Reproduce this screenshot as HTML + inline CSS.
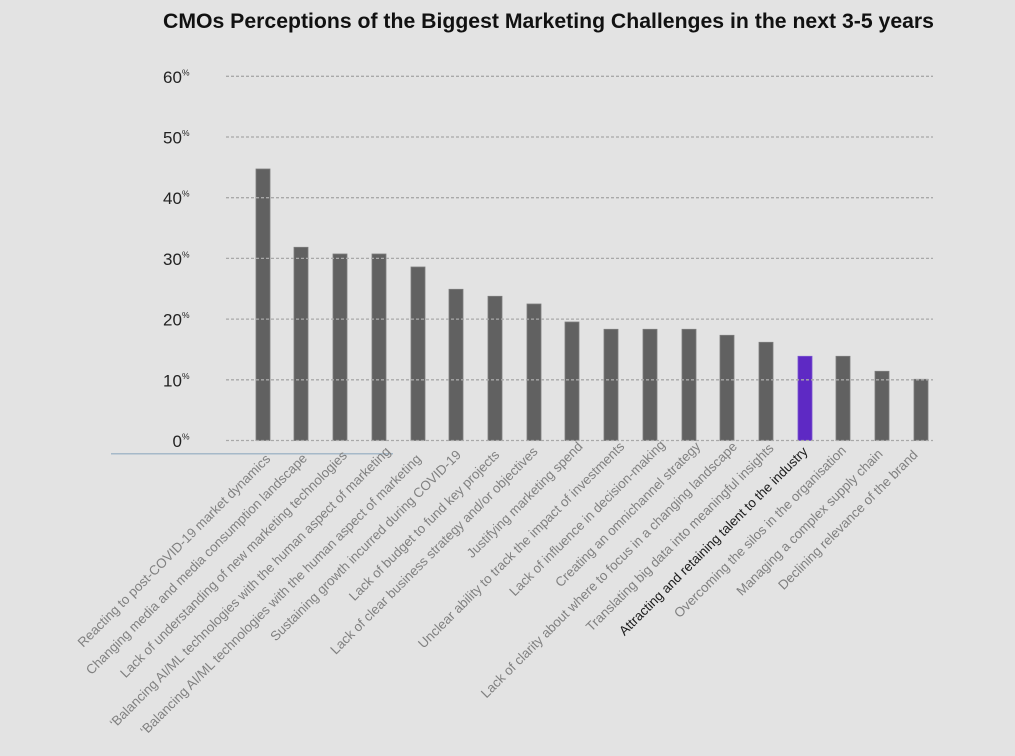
<!DOCTYPE html>
<html>
<head>
<meta charset="utf-8">
<style>
  html, body { margin: 0; padding: 0; background: #e3e3e3; }
  svg { display: block; }
  .yl { font-family: "Liberation Sans", Arial, sans-serif; font-size: 17px; fill: #222; }
  .xl { font-family: "Liberation Sans", Arial, sans-serif; font-size: 13.3px; fill: #808080; }
</style>
</head>
<body>
<svg width="1015" height="756" viewBox="0 0 1015 756" xmlns="http://www.w3.org/2000/svg">
  <rect x="0" y="0" width="1015" height="756" fill="#e3e3e3"/>

  <!-- Title -->
  <text x="163" y="28" font-family="'Liberation Sans Narrow', 'Liberation Sans', Arial, sans-serif" font-weight="bold" font-size="21" fill="#111" textLength="771" lengthAdjust="spacingAndGlyphs">CMOs Perceptions of the Biggest Marketing Challenges in the next 3-5 years</text>

  <!-- Bars -->
  <g fill="#616161" stroke="#7c7c7c" stroke-width="0.8">
    <rect x="256" y="169" width="14" height="271.5"/>
    <rect x="294" y="247.3" width="14" height="193.2"/>
    <rect x="333" y="254" width="14" height="186.5"/>
    <rect x="372" y="254" width="14" height="186.5"/>
    <rect x="411" y="267" width="14" height="173.5"/>
    <rect x="449" y="289.3" width="14" height="151.2"/>
    <rect x="488" y="296.3" width="14" height="144.2"/>
    <rect x="527" y="304" width="14" height="136.5"/>
    <rect x="565" y="322" width="14" height="118.5"/>
    <rect x="604" y="329.3" width="14" height="111.2"/>
    <rect x="643" y="329.3" width="14" height="111.2"/>
    <rect x="682" y="329.3" width="14" height="111.2"/>
    <rect x="720" y="335.3" width="14" height="105.2"/>
    <rect x="759" y="342.3" width="14" height="98.2"/>
    <rect x="836" y="356.3" width="14" height="84.2"/>
    <rect x="875" y="371.3" width="14" height="69.2"/>
    <rect x="914" y="379.3" width="14" height="61.2"/>
  </g>
  <rect x="798" y="356.3" width="14" height="84.2" fill="#5e29c4" stroke="#7a55d0" stroke-width="0.8"/>

  <!-- Gridlines -->
  <g stroke="#a9a9a9" stroke-width="1.3" stroke-dasharray="3 2" fill="none">
    <line x1="226" y1="440.5" x2="933" y2="440.5"/>
    <line x1="226" y1="379.8" x2="933" y2="379.8"/>
    <line x1="226" y1="319.1" x2="933" y2="319.1"/>
    <line x1="226" y1="258.4" x2="933" y2="258.4"/>
    <line x1="226" y1="197.7" x2="933" y2="197.7"/>
    <line x1="226" y1="137" x2="933" y2="137"/>
    <line x1="226" y1="76.3" x2="933" y2="76.3"/>
  </g>

  <!-- Axis line -->
  <line x1="111" y1="453.7" x2="393" y2="453.7" stroke="#a6b9c9" stroke-width="1.5"/>

  <!-- Y labels -->
  <g class="yl" text-anchor="end">
    <text x="189.5" y="447">0<tspan font-size="8.5" dy="-7.5">%</tspan></text>
    <text x="189.5" y="386.3">10<tspan font-size="8.5" dy="-7.5">%</tspan></text>
    <text x="189.5" y="325.6">20<tspan font-size="8.5" dy="-7.5">%</tspan></text>
    <text x="189.5" y="264.9">30<tspan font-size="8.5" dy="-7.5">%</tspan></text>
    <text x="189.5" y="204.2">40<tspan font-size="8.5" dy="-7.5">%</tspan></text>
    <text x="189.5" y="143.5">50<tspan font-size="8.5" dy="-7.5">%</tspan></text>
    <text x="189.5" y="82.8">60<tspan font-size="8.5" dy="-7.5">%</tspan></text>
  </g>

  <!-- X labels -->
  <g class="xl" text-anchor="end">
    <text transform="translate(271.2,459.7) rotate(-45)">Reacting to post-COVID-19 market dynamics</text>
    <text transform="translate(307.8,459) rotate(-45)">Changing media and media consumption landscape</text>
    <text transform="translate(347.8,456.3) rotate(-45)">Lack of understanding of new marketing technologies</text>
    <text transform="translate(391.2,452.3) rotate(-45)">‘Balancing AI/ML technologies with the human aspect of marketing</text>
    <text transform="translate(421.8,459.7) rotate(-45)">‘Balancing AI/ML technologies with the human aspect of marketing</text>
    <text transform="translate(461.8,455.7) rotate(-45)">Sustaining growth incurred during COVID-19</text>
    <text transform="translate(500.2,455.7) rotate(-45)">Lack of budget to fund key projects</text>
    <text transform="translate(538.5,452.3) rotate(-45)">Lack of clear business strategy and/or objectives</text>
    <text transform="translate(583.5,447.3) rotate(-45)">Justifying marketing spend</text>
    <text transform="translate(625.2,447.3) rotate(-45)">Unclear ability to track the impact of investments</text>
    <text transform="translate(665.8,445.7) rotate(-45)">Lack of influence in decision-making</text>
    <text transform="translate(701.2,447.3) rotate(-45)">Creating an omnichannel strategy</text>
    <text transform="translate(737.8,447.3) rotate(-45)">Lack of clarity about where to focus in a changing landscape</text>
    <text transform="translate(774.5,449) rotate(-45)">Translating big data into meaningful insights</text>
    <text transform="translate(808.5,452.3) rotate(-45)" fill="#1a1a1a">Attracting and retaining talent to the industry</text>
    <text transform="translate(846.8,451.3) rotate(-45)">Overcoming the silos in the organisation</text>
    <text transform="translate(883.5,454.7) rotate(-45)">Managing a complex supply chain</text>
    <text transform="translate(918.5,455.7) rotate(-45)">Declining relevance of the brand</text>
  </g>
</svg>
</body>
</html>
